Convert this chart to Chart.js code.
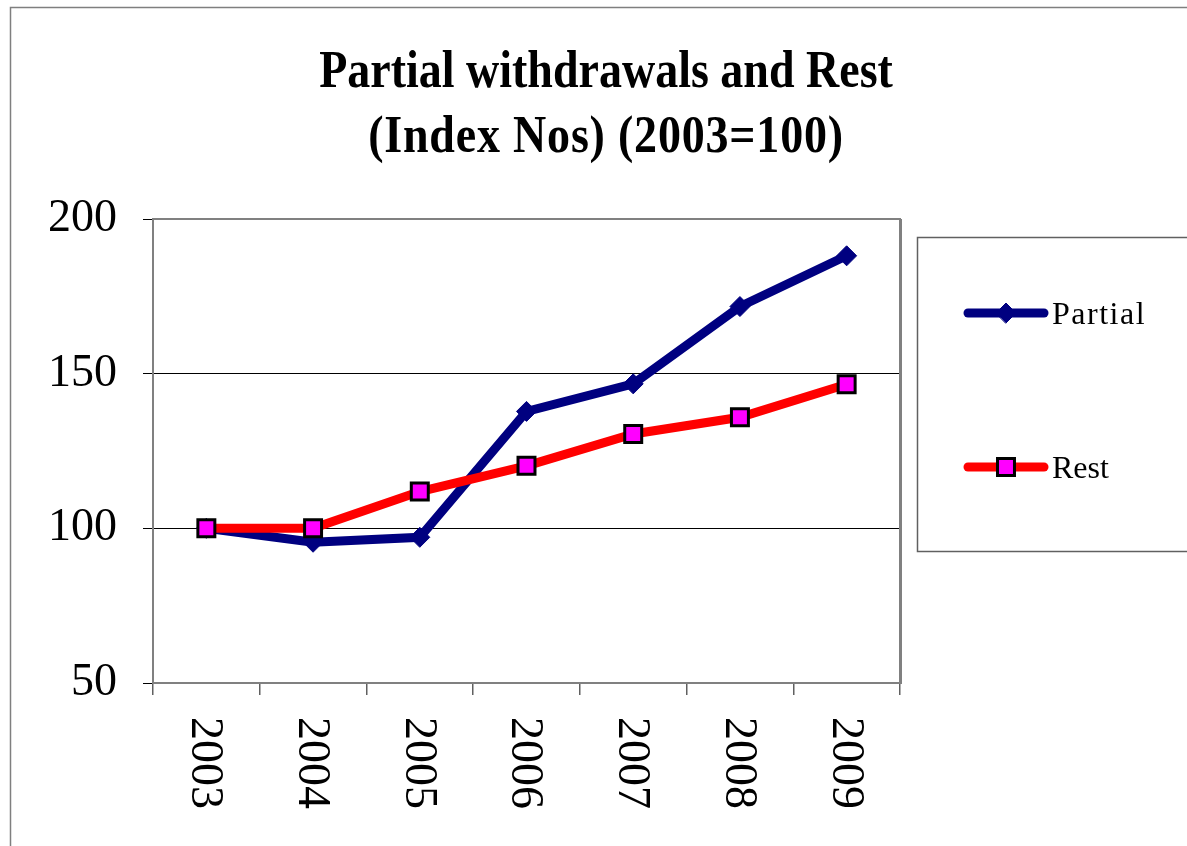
<!DOCTYPE html>
<html>
<head>
<meta charset="utf-8">
<script src="https://cdn.jsdelivr.net/npm/chart.js@4/dist/chart.umd.min.js"></script>
<style>
  html, body { margin: 0; padding: 0; background: #fff; overflow: hidden; }
  canvas { display: block; }
</style>
</head>
<body>
<canvas id="chart" width="1187" height="846"></canvas>
<script>
// chart data
const years = ['2003', '2004', '2005', '2006', '2007', '2008', '2009'];
const partialValues = [100, 95.5, 97.1, 137.8, 146.7, 171.7, 188.1];
const restValues = [100, 100, 111.9, 120.2, 130.5, 135.9, 146.6];
const yTicks = [50, 100, 150, 200];
const titleLines = ['Partial withdrawals and Rest', '(Index Nos) (2003=100)'];

const SERIF = "'Liberation Serif', 'Times New Roman', serif";

// title, frames, rotated year labels and the boxed legend
const decorPlugin = {
    id: 'decor',
    afterDraw(chart) {
        const ctx = chart.ctx;
        const area = chart.chartArea;
        const x = chart.scales.x;

        ctx.save();
        // outer frame
        ctx.strokeStyle = '#7f7f7f';
        ctx.lineWidth = 1.5;
        ctx.strokeRect(10.5, 7.5, 1300, 1000);

        // plot area frame
        ctx.strokeStyle = '#808080';
        ctx.lineWidth = 2;
        ctx.strokeRect(area.left, area.top, area.right - area.left, area.bottom - area.top);
        ctx.lineWidth = 3;
        ctx.beginPath();
        ctx.moveTo(area.right + 0.5, area.top);
        ctx.lineTo(area.right + 0.5, area.bottom + 1);
        ctx.stroke();

        // title (stretched vertically like the original)
        ctx.fillStyle = '#000';
        ctx.font = 'bold 46px ' + SERIF;
        ctx.textAlign = 'center';
        ctx.textBaseline = 'alphabetic';
        [[titleLines[0], 87, '0px'], [titleLines[1], 152, '0.8px']].forEach(([t, y, sp]) => {
            ctx.save();
            ctx.letterSpacing = sp;
            ctx.translate(606, y);
            ctx.scale(1, 1.14);
            ctx.fillText(t, 0, 0);
            ctx.restore();
        });

        // year labels, rotated clockwise
        ctx.font = '46px ' + SERIF;
        ctx.textAlign = 'left';
        ctx.textBaseline = 'middle';
        years.forEach((yr, i) => {
            ctx.save();
            ctx.translate(x.getPixelForValue(i) - 2, 717);
            ctx.rotate(Math.PI / 2);
            ctx.fillText(yr, 0, 0);
            ctx.restore();
        });

        // legend box
        ctx.strokeStyle = '#606060';
        ctx.lineWidth = 1.5;
        ctx.strokeRect(917.5, 237.5, 300, 314);

        const items = [
            { ds: chart.data.datasets[0], y: 313, spacing: '1.5px' },
            { ds: chart.data.datasets[1], y: 467, spacing: '0px' }
        ];
        items.forEach(it => {
            ctx.strokeStyle = it.ds.borderColor;
            ctx.lineWidth = 9;
            ctx.lineCap = 'round';
            ctx.beginPath();
            ctx.moveTo(968, it.y);
            ctx.lineTo(1044, it.y);
            ctx.stroke();
            Chart.helpers.drawPoint(ctx, {
                pointStyle: it.ds.pointStyle,
                radius: it.ds.pointRadius,
                borderWidth: it.ds.pointBorderWidth,
                rotation: 0
            }, 1006, it.y);
            ctx.fillStyle = '#000';
            ctx.font = '32px ' + SERIF;
            ctx.textAlign = 'left';
            ctx.textBaseline = 'alphabetic';
            ctx.letterSpacing = it.spacing;
            ctx.fillText(it.ds.label, 1052, it.y + 11);
            ctx.letterSpacing = '0px';
        });
        ctx.restore();
    }
};

// drawPoint needs fill/stroke styles set on ctx, so wrap them
const origDrawPoint = Chart.helpers.drawPoint;
Chart.helpers.drawPoint = function (ctx, opts, px, py) {
    ctx.save();
    if (opts.pointStyle === 'rect') {
        ctx.fillStyle = '#ff00ff';
        ctx.strokeStyle = '#000';
    } else {
        ctx.fillStyle = '#000080';
        ctx.strokeStyle = '#000080';
    }
    ctx.lineWidth = opts.borderWidth;
    origDrawPoint(ctx, opts, px, py);
    ctx.restore();
};

new Chart(document.getElementById('chart'), {
    type: 'line',
    data: {
        labels: years,
        datasets: [
            {
                label: 'Partial',
                data: partialValues,
                borderColor: '#000080',
                backgroundColor: '#000080',
                borderWidth: 9,
                pointStyle: 'rectRot',
                pointRadius: 10,
                pointBorderWidth: 1,
                pointBorderColor: '#000080',
                pointBackgroundColor: '#000080',
                tension: 0,
                order: 2
            },
            {
                label: 'Rest',
                data: restValues,
                borderColor: '#ff0000',
                backgroundColor: '#ff00ff',
                borderWidth: 9,
                pointStyle: 'rect',
                pointRadius: 12,
                pointBorderWidth: 3,
                pointBorderColor: '#000000',
                pointBackgroundColor: '#ff00ff',
                tension: 0,
                order: 1
            }
        ]
    },
    options: {
        responsive: false,
        animation: false,
        devicePixelRatio: 1,
        layout: { padding: { top: 219, right: 287, left: 0, bottom: 0 } },
        plugins: {
            legend: { display: false },
            title: { display: false },
            tooltip: { enabled: false }
        },
        scales: {
            x: {
                type: 'category',
                offset: true,
                afterFit(scale) { scale.height = 163; },
                grid: {
                    offset: true,
                    drawOnChartArea: false,
                    drawTicks: true,
                    tickLength: 12,
                    tickColor: '#606060',
                    lineWidth: 1.5
                },
                border: { display: true, color: '#606060', width: 2 },
                ticks: { display: false }
            },
            y: {
                min: 50,
                max: 200,
                afterFit(scale) { scale.width = 153; },
                afterBuildTicks(scale) { scale.ticks = yTicks.map(v => ({ value: v })); },
                grid: {
                    color: ctx => (ctx.tick && (ctx.tick.value === 100 || ctx.tick.value === 150)) ? '#000' : 'rgba(0,0,0,0)',
                    tickColor: '#000',
                    tickLength: 10,
                    lineWidth: 1
                },
                border: { display: true, color: '#606060', width: 2 },
                ticks: {
                    color: '#000',
                    font: { family: SERIF, size: 46 },
                    padding: 26
                }
            }
        }
    },
    plugins: [decorPlugin]
});
</script>
</body>
</html>
